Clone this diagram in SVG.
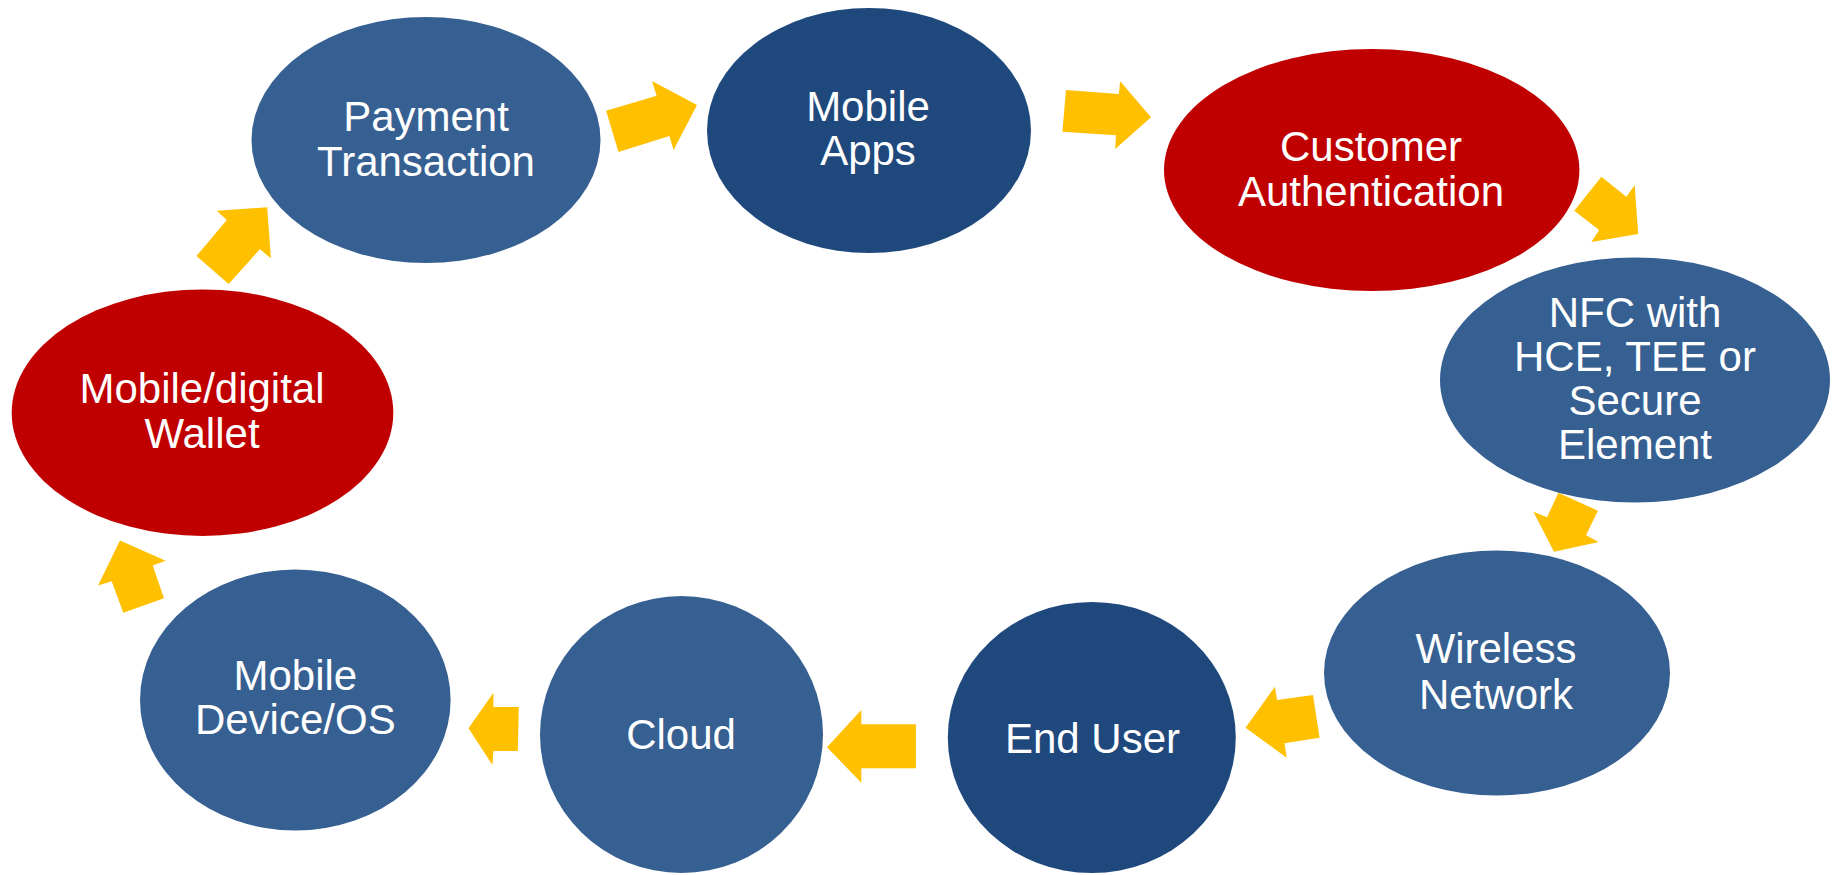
<svg xmlns="http://www.w3.org/2000/svg" width="1837" height="875" viewBox="0 0 1837 875">
<style>
.mid{fill:#376092}
.dark{fill:#1F497D}
.red{fill:#C00000}
.arr{fill:#FFC000}
text{font-family:"Liberation Sans",Arial,sans-serif;font-size:42px;fill:#FFFFFF;text-anchor:middle}
</style>
<rect width="1837" height="875" fill="#FFFFFF"/>
<g id="connectors">
<polygon class="arr" points="267.2,207.3 216.7,210.7 226.8,220 196.5,256 228.6,284 259.9,249.3 270.9,258.3"/>
<polygon class="arr" points="606.1,110.7 656.6,95.7 652,81 697,105 673.6,150 669.4,136 618.5,152"/>
<polygon class="arr" points="1066,90 1118.8,94 1120.2,81.3 1151,117.3 1115.2,149 1116,135.3 1062.4,131.7"/>
<polygon class="arr" points="1574.2,210.7 1601.4,176.7 1626.3,196.7 1634.7,185.3 1638.2,234 1591.3,242 1599.2,230"/>
<polygon class="arr" points="1558.4,492.7 1597.9,510.7 1586,535.3 1598.7,542 1554,551.7 1533.4,511.7 1547,517.3"/>
<polygon class="arr" points="1313,695 1319.6,737.7 1284.5,743.3 1286.7,757.7 1245.5,727.7 1274.9,686.7 1277.1,700"/>
<polygon class="arr" points="915.9,724.3 915.9,768.3 861.3,768.3 861.3,782.7 827,747.3 861.3,710 861.3,724.3"/>
<polygon class="arr" points="518.8,707 517.8,751 493.4,751 492.4,765 468.5,728.3 493.4,692.7 493.4,707"/>
<polygon class="arr" points="120,540.6 165.7,560.7 152.7,565.5 164,598.2 123.3,612.8 111.7,581.2 98,585.6"/>
</g>
<g id="payment">
<ellipse class="mid" cx="426" cy="140" rx="174.5" ry="123"/>
<text x="426" y="131">Payment</text>
<text x="426" y="175.7">Transaction</text>
</g>
<g id="apps">
<ellipse class="dark" cx="869" cy="130.5" rx="162" ry="122.5"/>
<text x="868" y="120.7">Mobile</text>
<text x="868" y="165">Apps</text>
</g>
<g id="auth">
<ellipse class="red" cx="1371.7" cy="170" rx="207.7" ry="121"/>
<text x="1371" y="161">Customer</text>
<text x="1371" y="206">Authentication</text>
</g>
<g id="nfc">
<ellipse class="mid" cx="1635" cy="380" rx="195" ry="122.5"/>
<text x="1635" y="326.7">NFC with</text>
<text x="1635" y="370.7">HCE, TEE or</text>
<text x="1635" y="415">Secure</text>
<text x="1635" y="459.3">Element</text>
</g>
<g id="wireless">
<ellipse class="mid" cx="1497" cy="673" rx="173" ry="122.5"/>
<text x="1496" y="663.3">Wireless</text>
<text x="1496" y="708.7">Network</text>
</g>
<g id="enduser">
<ellipse class="dark" cx="1091.8" cy="737.5" rx="144" ry="135.5"/>
<text x="1092.5" y="752.7">End User</text>
</g>
<g id="cloud">
<ellipse class="mid" cx="681.5" cy="734.5" rx="141.5" ry="138.5"/>
<text x="681" y="749.3">Cloud</text>
</g>
<g id="device">
<ellipse class="mid" cx="295.3" cy="700" rx="155.3" ry="130.5"/>
<text x="295.3" y="690.4">Mobile</text>
<text x="295.3" y="734.2">Device/OS</text>
</g>
<g id="wallet">
<ellipse class="red" cx="202.5" cy="412.7" rx="190.8" ry="123.2"/>
<text x="202" y="402.7">Mobile/digital</text>
<text x="202" y="448.4">Wallet</text>
</g>
</svg>
